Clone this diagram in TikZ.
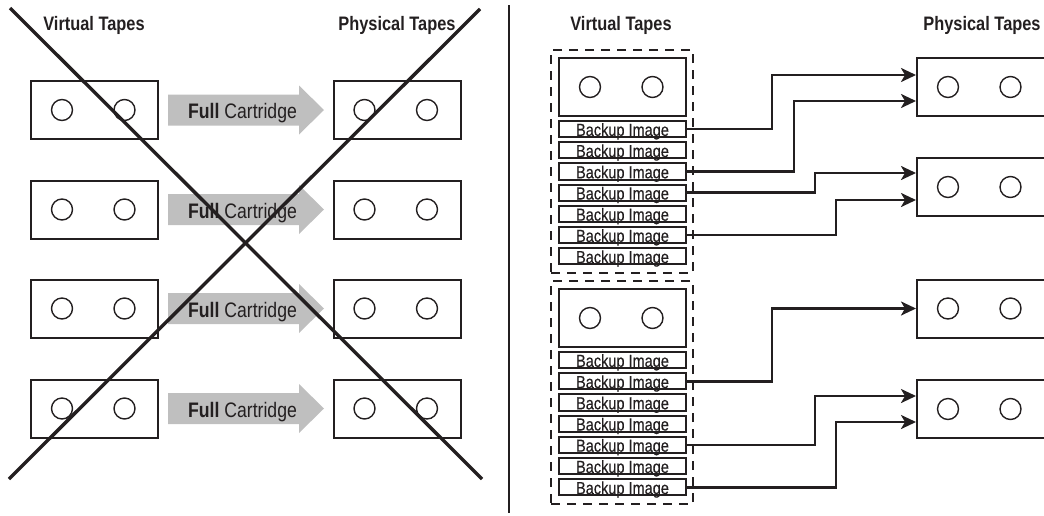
\documentclass[tikz,border=0pt]{standalone}
\usepackage{fontspec}
\setmainfont[FakeStretch=0.84]{Liberation Sans}
\newfontfamily\bifont[FakeStretch=0.83, FakeBold=0.4]{Liberation Sans}
\usetikzlibrary{calc,arrows.meta}
\definecolor{fcgray}{RGB}{191,191,191}
\definecolor{ink}{RGB}{35,31,32}
\begin{document}
\begin{tikzpicture}[x=1pt, y=-1pt, >={Stealth[length=15pt, width=14pt, inset=4pt]},
		tape/.style={draw=ink, line width=2pt, minimum width=127pt, minimum height=58pt, inner sep=0pt},
		reel/.style={draw=ink, circle, line width=1.4pt, minimum size=21pt, inner sep=0pt},
		head/.style={anchor=base, text=ink, font=\fontsize{19.5}{22}\selectfont\bfseries},
		fctext/.style={anchor=base, text=ink, font=\fontsize{21}{24}\selectfont},
		bimg/.style={draw=ink, line width=2pt, minimum width=127pt, inner xsep=0pt, inner ysep=1.2pt,
			text height=13.8pt, text depth=0pt, text=ink, font=\bifont\fontsize{17.5}{18}\selectfont},
		group/.style={draw=ink, line width=2pt, dash pattern=on 9pt off 7pt, minimum width=142pt, minimum height=223pt},
		conn/.style={draw=ink, line width=2.6pt, ->},
		cross/.style={draw=ink, line width=3.4pt}]
		\useasboundingbox (0,0) rectangle (1044,515);
		
		% left: full cartridges
		\node[head] (lvhead) at (94,30) {Virtual Tapes};
		\node[head] (lphead) at (397,30) {Physical Tapes};
		\foreach \i/\y in {1/110,2/209.5,3/308.5,4/408.5}{
			\node[tape] (lvt\i) at (94.5,\y) {};
			\node[tape] (lpt\i) at (397,\y) {};
			\fill[fcgray] (168,\y-15.5) -- (299,\y-15.5) -- (299,\y-24.5) -- (324,\y)
				-- (299,\y+24.5) -- (299,\y+15.5) -- (168,\y+15.5) -- cycle;
			\node[fctext] (fc\i) at (242.5,\y+8.5) {{\bfseries Full} Cartridge};
		}
		\draw[draw=ink, line width=2.2pt] (509,5) -- (509,513);
		
		% right: backup images
		\node[head] (rvhead) at (621,30) {Virtual Tapes};
		\node[head] (rphead) at (982,30) {Physical Tapes};
		\foreach \g/\dy in {1/0,2/231}{
			\node[group] (grp\g) at (622,161.5+\dy) {};
			\node[tape] (rvt\g) at (622.5,87+\dy) {};
			\foreach \k in {1,...,7}
				\node[bimg] (bi\g\k) at (622.5,{129+\dy+21.2*(\k-1)}) {Backup Image};
		}
		\foreach \i/\y in {1/87,2/187,3/308.5,4/409}
			\node[tape, minimum width=129pt] (rpt\i) at (981.5,\y) {};
		
		\foreach \t in {lvt1,lvt2,lvt3,lvt4,lpt1,lpt2,lpt3,lpt4,rvt1,rvt2,rpt1,rpt2,rpt3,rpt4}{
			\node[reel] (\t a) at ($(\t.west)+(32,0)$) {};
			\node[reel] (\t b) at ($(\t.west)+(94.5,0)$) {};
		}
		
		\draw[conn] (bi11.east) -- ++(85,0) |- ($(rpt1.west)+(0,-12)$);
		\draw[conn] (bi13.east) -- ++(107,0) |- ($(rpt1.west)+(0,14)$);
		\draw[conn] (bi14.east) -- ++(128,0) |- ($(rpt2.west)+(0,-14)$);
		\draw[conn] (bi16.east) -- ++(149,0) |- ($(rpt2.west)+(0,13)$);
		\draw[conn] (bi22.east) -- ++(85,0) |- (rpt3.west);
		\draw[conn] (bi25.east) -- ++(128,0) |- ($(rpt4.west)+(0,-13)$);
		\draw[conn] (bi27.east) -- ++(149,0) |- ($(rpt4.west)+(0,13)$);
		
		% the cross over the left side
		\draw[cross] (10,8) -- (482,479);
		\draw[cross] (480,9) -- (9,479);
\end{tikzpicture}
\end{document}
